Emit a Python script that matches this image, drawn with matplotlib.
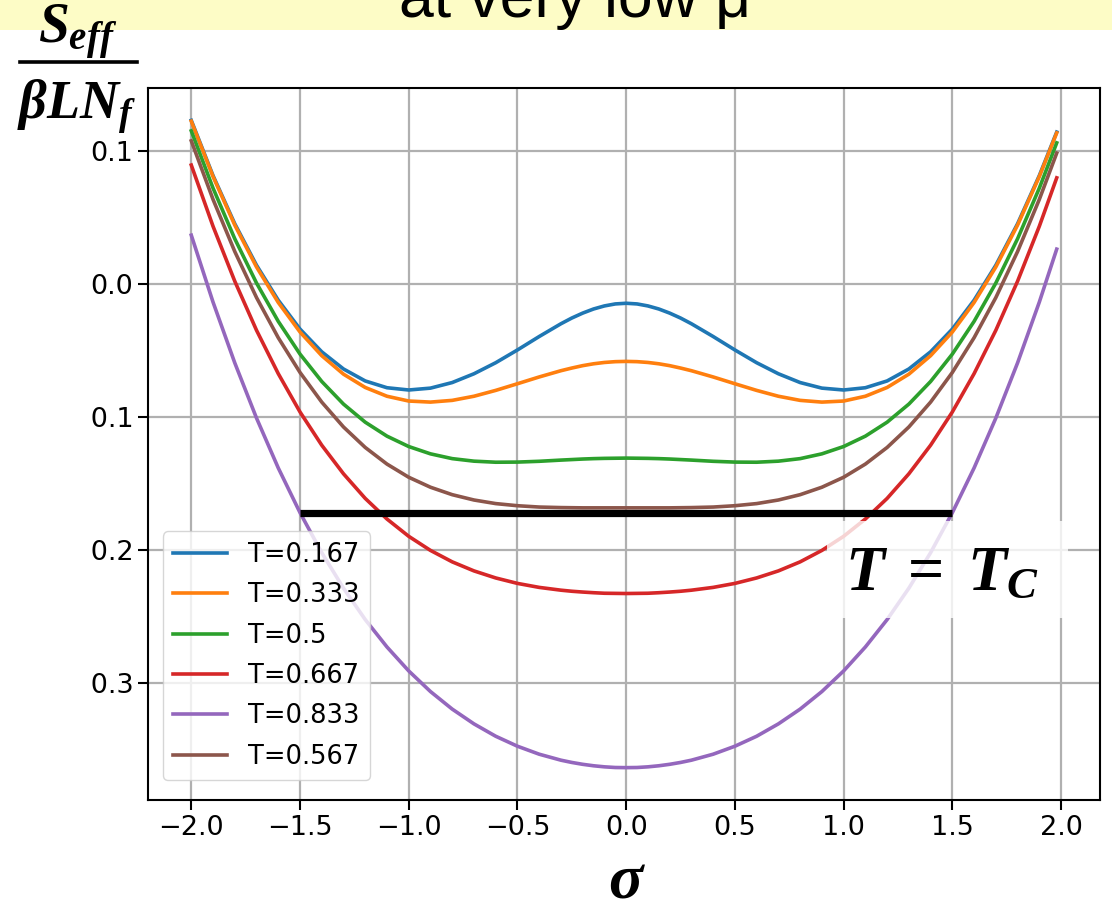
import matplotlib
matplotlib.use("Agg")
import matplotlib.pyplot as plt
from matplotlib.patches import Rectangle
from matplotlib.lines import Line2D

# sigma grid (finer near the origin where the low-T curve bends)
sigma = [-2.0, -1.9, -1.8, -1.7, -1.6, -1.5, -1.4, -1.3, -1.2, -1.1, -1.0,
         -0.9, -0.8, -0.7, -0.6, -0.5, -0.4, -0.3, -0.25, -0.2, -0.15, -0.1,
         -0.05, 0.0, 0.05, 0.1, 0.15, 0.2, 0.25, 0.3, 0.4, 0.5, 0.6, 0.7,
         0.8, 0.9, 1.0, 1.1, 1.2, 1.3, 1.4, 1.5, 1.6, 1.7, 1.8, 1.9, 1.98]

# S_eff / (beta L N_f) for each temperature
s_t0167 = [0.1230, 0.0815, 0.0453, 0.0141, -0.0122, -0.0339, -0.0510, -0.0639,
           -0.0729, -0.0780, -0.0797, -0.0783, -0.0741, -0.0675, -0.0592, -0.0496,
           -0.0395, -0.0299, -0.0256, -0.0219, -0.0188, -0.0165, -0.0150, -0.0145,
           -0.0150, -0.0165, -0.0188, -0.0219, -0.0256, -0.0299, -0.0395, -0.0496,
           -0.0592, -0.0675, -0.0741, -0.0783, -0.0797, -0.0780, -0.0729, -0.0639,
           -0.0510, -0.0339, -0.0122, 0.0141, 0.0453, 0.0815, 0.1142]
s_t0333 = [0.1224, 0.0808, 0.0443, 0.0128, -0.0139, -0.0361, -0.0539, -0.0678,
           -0.0778, -0.0844, -0.0880, -0.0888, -0.0875, -0.0844, -0.0800, -0.0750,
           -0.0699, -0.0652, -0.0632, -0.0614, -0.0600, -0.0590, -0.0584, -0.0582,
           -0.0584, -0.0590, -0.0600, -0.0614, -0.0632, -0.0652, -0.0699, -0.0750,
           -0.0800, -0.0844, -0.0875, -0.0888, -0.0880, -0.0844, -0.0778, -0.0678,
           -0.0539, -0.0361, -0.0139, 0.0128, 0.0443, 0.0808, 0.1136]
s_t0500 = [0.1151, 0.0721, 0.0340, 0.0007, -0.0281, -0.0527, -0.0733, -0.0903,
           -0.1039, -0.1144, -0.1222, -0.1277, -0.1313, -0.1332, -0.1340, -0.1339,
           -0.1333, -0.1324, -0.1320, -0.1316, -0.1313, -0.1311, -0.1310, -0.1309,
           -0.1310, -0.1311, -0.1313, -0.1316, -0.1320, -0.1324, -0.1333, -0.1339,
           -0.1340, -0.1332, -0.1313, -0.1277, -0.1222, -0.1144, -0.1039, -0.0903,
           -0.0733, -0.0527, -0.0281, 0.0007, 0.0340, 0.0721, 0.1061]
s_t0667 = [0.0894, 0.0434, 0.0021, -0.0348, -0.0674, -0.0962, -0.1212, -0.1427,
           -0.1612, -0.1767, -0.1897, -0.2003, -0.2089, -0.2157, -0.2210, -0.2251,
           -0.2281, -0.2302, -0.2310, -0.2316, -0.2321, -0.2325, -0.2326, -0.2327,
           -0.2326, -0.2325, -0.2321, -0.2316, -0.2310, -0.2302, -0.2281, -0.2251,
           -0.2210, -0.2157, -0.2089, -0.2003, -0.1897, -0.1767, -0.1612, -0.1427,
           -0.1212, -0.0962, -0.0674, -0.0348, 0.0021, 0.0434, 0.0798]
s_t0833 = [0.0367, -0.0136, -0.0593, -0.1008, -0.1383, -0.1719, -0.2020, -0.2287,
           -0.2523, -0.2729, -0.2909, -0.3064, -0.3196, -0.3307, -0.3400, -0.3475,
           -0.3535, -0.3580, -0.3597, -0.3611, -0.3622, -0.3630, -0.3635, -0.3636,
           -0.3635, -0.3630, -0.3622, -0.3611, -0.3597, -0.3580, -0.3535, -0.3475,
           -0.3400, -0.3307, -0.3196, -0.3064, -0.2909, -0.2729, -0.2523, -0.2287,
           -0.2020, -0.1719, -0.1383, -0.1008, -0.0593, -0.0136, 0.0262]
s_t0567 = [0.1076, 0.0636, 0.0244, -0.0102, -0.0404, -0.0665, -0.0888, -0.1075,
           -0.1229, -0.1354, -0.1453, -0.1528, -0.1584, -0.1624, -0.1651, -0.1667,
           -0.1677, -0.1681, -0.1682, -0.1683, -0.1683, -0.1683, -0.1683, -0.1683,
           -0.1683, -0.1683, -0.1683, -0.1683, -0.1682, -0.1681, -0.1677, -0.1667,
           -0.1651, -0.1624, -0.1584, -0.1528, -0.1453, -0.1354, -0.1229, -0.1075,
           -0.0888, -0.0665, -0.0404, -0.0102, 0.0244, 0.0636, 0.0984]

labels = ["T=0.167", "T=0.333", "T=0.5", "T=0.667", "T=0.833", "T=0.567"]
series = [s_t0167, s_t0333, s_t0500, s_t0667, s_t0833, s_t0567]

# critical temperature marker
tc_sigma = [-1.5, 1.5]
tc_level = [-0.172, -0.172]

plt.rcParams.update({
    'mathtext.fontset': 'custom',
    'mathtext.rm': 'Liberation Serif:bold',
    'mathtext.it': 'Liberation Serif:italic:bold',
    'mathtext.bf': 'Liberation Serif:bold',
})

W, H = 1112, 916
fig = plt.figure(figsize=(W / 100, H / 100), dpi=100)


def fx(px):
    return px / W


def fy(py):
    return 1 - py / H


ax = fig.add_axes([fx(148), fy(800), fx(1100) - fx(148), fy(88) - fy(800)])
for vals, lab in zip(series, labels):
    ax.plot(sigma, vals, lw=2.6, label=lab)
ax.set_xlim(ax.get_xlim())
ax.set_ylim(ax.get_ylim())

ax.plot(tc_sigma, tc_level, color='black', lw=5.2, solid_capstyle='butt', zorder=4)

ax.grid(True, color='#b0b0b0', lw=1.6)
ax.tick_params(labelsize=19.5, length=7, width=1.5)
for sp in ax.spines.values():
    sp.set_linewidth(1.5)

ax.legend(loc='lower left', bbox_to_anchor=(0.0158, 0.0281), borderaxespad=0,
          fontsize=18.5, handlelength=2.1, labelspacing=0.56, framealpha=0.8)

# label box for T = T_C
ax.add_patch(Rectangle((0.922, -0.2511), 1.11, 0.0729, facecolor='white',
                       edgecolor='none', alpha=0.8, zorder=5))
ax.text(1.005, -0.2305, r"$T\;=\;T_C$", fontsize=46, ha='left', va='baseline', zorder=6)

# slide header strip
fig.add_artist(Rectangle((0, fy(30)), 1, 30 / H, transform=fig.transFigure,
                         facecolor='#FDFCC6', edgecolor='none', zorder=1))
fig.text(fx(575), fy(17), "at very low μ", ha='center', va='baseline',
         fontsize=45, family='Liberation Sans', zorder=2)

# hide the left end of the y tick labels
fig.add_artist(Rectangle((0, fy(720)), fx(89), fy(380) - fy(720),
                         transform=fig.transFigure, facecolor='white',
                         edgecolor='none', zorder=10))

# axis titles
fig.text(fx(78), fy(43), r"$S_{eff}$", ha='center', va='baseline', fontsize=40, zorder=3)
fig.add_artist(Line2D([fx(20), fx(137)], [fy(62), fy(62)], transform=fig.transFigure,
                      color='black', lw=2.6, zorder=3))
fig.text(fx(77), fy(118), r"$\beta L N_f$", ha='center', va='baseline', fontsize=39, zorder=3)
fig.text(fx(627), fy(898), r"$\sigma$", ha='center', va='baseline', fontsize=46)

fig.savefig("out.png", dpi=100)
